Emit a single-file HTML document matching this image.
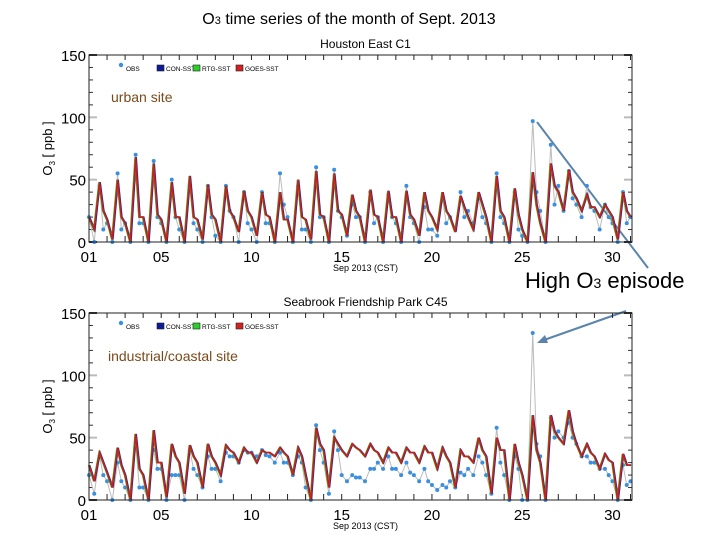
<!DOCTYPE html>
<html><head><meta charset="utf-8"><style>
body{margin:0;background:#fff;}
svg{display:block;font-family:"Liberation Sans",sans-serif;}
</style></head><body>
<svg id="c" width="720" height="540">
<text x="349" y="24" font-size="16" text-anchor="middle" fill="#000">O<tspan font-size="11">3</tspan> time series of the month of Sept. 2013</text>
<text x="525" y="288" font-size="22" fill="#000">High O<tspan font-size="14">3</tspan> episode</text>
<line x1="537" y1="122" x2="648" y2="268" stroke="#5a84ac" stroke-width="2"/>
<line x1="626" y1="311" x2="544" y2="340" stroke="#5a84ac" stroke-width="2"/>
<polygon points="537,343 545,335 548,343" fill="#5a84ac"/>
<g id="p1"></g>
<g id="p2"></g>
</svg>
<script>
const days = ["01","05","10","15","20","25","30"];
const tickDays = [1,5,10,15,20,25,30];
const yTicks = [0,50,100,150];
const hours = [0,7,14,19];
const topModel = [20,10,48,25, 18,2,50,20, 15,0,68,20, 20,0,63,22, 18,0,48,20, 20,0,53,20, 18,2,46,22, 18,0,45,25, 20,8,41,25, 20,5,40,22, 20,0,40,18, 18,0,50,20, 18,2,57,22, 20,0,55,25, 22,5,38,25, 20,0,42,22, 20,0,41,20, 20,0,41,22, 18,5,40,25, 20,10,40,25, 20,8,37,28, 20,10,40,30, 20,0,53,25, 20,0,43,22, 10,0,56,30, 15,0,63,45, 40,25,58,40, 35,25,38,28, 28,20,30,25, 20,2,40,25, 20];
const topObs = [20,0,45,10, 15,0,55,10, 15,0,70,15, 15,0,65,20, 15,0,50,20, 10,0,45,15, 10,0,45,20, 5,0,45,25, 20,0,40,15, 10,0,40,15, 15,0,55,30, 20,0,45,10, 10,0,60,20, 20,0,58,25, 20,5,30,20, 20,0,40,15, 20,0,38,20, 15,0,45,20, 15,0,28,10, 10,5,35,15, 20,10,40,20, 25,15,35,20, 15,0,55,20, 15,0,40,10, 5,0,97,40, 25,0,78,30, 45,25,57,35, 30,20,45,28, 25,10,30,20, 15,0,40,15, 20];
const botModel = [28,15,38,30, 22,10,42,28, 20,0,53,25, 20,0,56,30, 30,2,45,35, 30,5,44,35, 30,10,45,35, 30,20,44,40, 38,30,42,38, 38,30,40,38, 38,35,42,38, 35,20,42,35, 20,0,58,45, 40,10,50,45, 40,35,45,42, 40,35,45,40, 38,30,42,38, 38,30,42,38, 38,30,43,38, 38,25,42,35, 30,10,40,35, 35,30,50,40, 35,5,50,40, 40,0,45,30, 20,0,68,40, 30,0,68,55, 50,45,72,55, 45,35,45,38, 35,25,37,32, 30,0,37,28, 28];
const botObs = [20,5,35,20, 15,0,30,15, 10,0,45,10, 10,0,40,25, 25,0,20,20, 20,0,40,25, 20,10,35,25, 25,15,38,35, 35,30,40,38, 38,35,40,36, 35,30,38,30, 30,20,35,30, 10,0,60,40, 30,5,55,40, 20,15,20,18, 18,15,25,25, 30,25,35,25, 25,20,30,22, 20,15,25,15, 12,8,12,10, 15,10,22,20, 25,20,35,30, 20,5,58,30, 20,0,35,25, 0,0,134,45, 35,0,66,50, 55,50,62,50, 45,35,35,30, 30,25,25,20, 15,0,28,12, 15];
const legendNames = ["OBS","CON-SST","RTG-SST","GOES-SST"];
const legendColors = ["#3a8fe0","#0a1a9a","#2ad02a","#d42020"];
const NS="http://www.w3.org/2000/svg";
function mk(t,a,p){const e=document.createElementNS(NS,t);for(const k in a)e.setAttribute(k,a[k]);p.appendChild(e);return e;}
function panel(g,top,title,site,model,obs){
  const L=89,R=632,y0=top+187,y150=top;
  const xs=t=>L+(t-1)*18.05;
  const ys=v=>y0-(v/150)*(y0-y150);
  const tx=i=>Math.floor(i/4)+1+hours[i%4]/24;
  let e=mk('text',{x:(L+R)/2+5,y:top-7,'font-size':12,'text-anchor':'middle'},g);e.textContent=title;
  
  
  for(let v=0;v<=150;v+=10){const maj=v%50==0;const w=maj?8:4;
    mk('line',{x1:L,x2:L+w,y1:ys(v),y2:ys(v),stroke:maj&&v>0&&v<150?'#bbb':'#333','stroke-width':maj?2:1},g);
    mk('line',{x1:R-w,x2:R,y1:ys(v),y2:ys(v),stroke:maj&&v>0&&v<150?'#bbb':'#333','stroke-width':maj?2:1},g);}
  for(let d=1;d<=31;d++){mk('line',{x1:xs(d),x2:xs(d),y1:y0,y2:y0-6,stroke:'#222'},g);mk('line',{x1:xs(d),x2:xs(d),y1:y150,y2:y150+5,stroke:'#222'},g);}
  yTicks.forEach(v=>{const t=mk('text',{x:L-3,y:ys(v)+6,'font-size':15,'text-anchor':'end'},g);t.textContent=v;
    
    });
  tickDays.forEach((d,i)=>{const t=mk('text',{x:xs(d),y:y0+20,'font-size':15,'text-anchor':'middle'},g);t.textContent=days[i];
    
    });
  e=mk('text',{x:(L+R)/2+5,y:y0+29,'font-size':9,'text-anchor':'middle'},g);e.textContent='Sep 2013 (CST)';
  
  
  e=mk('text',{transform:`translate(52,${(y0+y150)/2}) rotate(-90)`,'font-size':13,'text-anchor':'middle'},g);e.innerHTML='O<tspan font-size="8" dy="3">3</tspan><tspan dy="-3"> [ ppb ]</tspan>';
  
  
  const op=obs.map((v,i)=>xs(tx(i))+','+ys(v)).join(' ');
  e=mk('polyline',{points:op,fill:'none',stroke:'#bbb','stroke-width':1},g);
  
  
  obs.forEach((v,i)=>{const c=mk('circle',{cx:xs(tx(i)),cy:ys(v),r:2,fill:'#3a8fe0'},g);
    
    });
  const mp=model.map((v,i)=>xs(tx(i))+','+ys(v)).join(' ');
  e=mk('polyline',{points:mp,fill:'none',stroke:'#0a1a9a','stroke-width':1.5,transform:'translate(0.6,0)'},g);
  
  
  e=mk('polyline',{points:mp,fill:'none',stroke:'#2ad02a','stroke-width':1.5,transform:'translate(-0.6,0)'},g);
  
  
  e=mk('polyline',{points:mp,fill:'none',stroke:'#c81e1e','stroke-width':1.7},g);
  
  
  mk('rect',{x:L,y:y150,width:R-L,height:y0-y150,fill:'none',stroke:'#222','stroke-width':1},g);
  const lx=[119,157,193,236];
  legendNames.forEach((n,i)=>{
    if(i==0){mk('circle',{cx:lx[i]+2,cy:top+10,r:2.2,fill:legendColors[i]},g);}
    else mk('rect',{x:lx[i],y:top+10,width:7,height:6,fill:legendColors[i],stroke:'#222','stroke-width':0.6},g);
    const t=mk('text',{x:lx[i]+(i==0?7:9),y:top+16,'font-size':6.5},g);t.textContent=n;
    
    });
  e=mk('text',{x:site[1],y:top+site[2],'font-size':14,fill:'#7a4a1a'},g);e.textContent=site[0];
  
  
}
panel(document.getElementById('p1'),55,'Houston East C1',['urban site',111,47],topModel,topObs);
panel(document.getElementById('p2'),313,'Seabrook Friendship Park C45',['industrial/coastal site',108,48],botModel,botObs);
</script>
</body></html>
